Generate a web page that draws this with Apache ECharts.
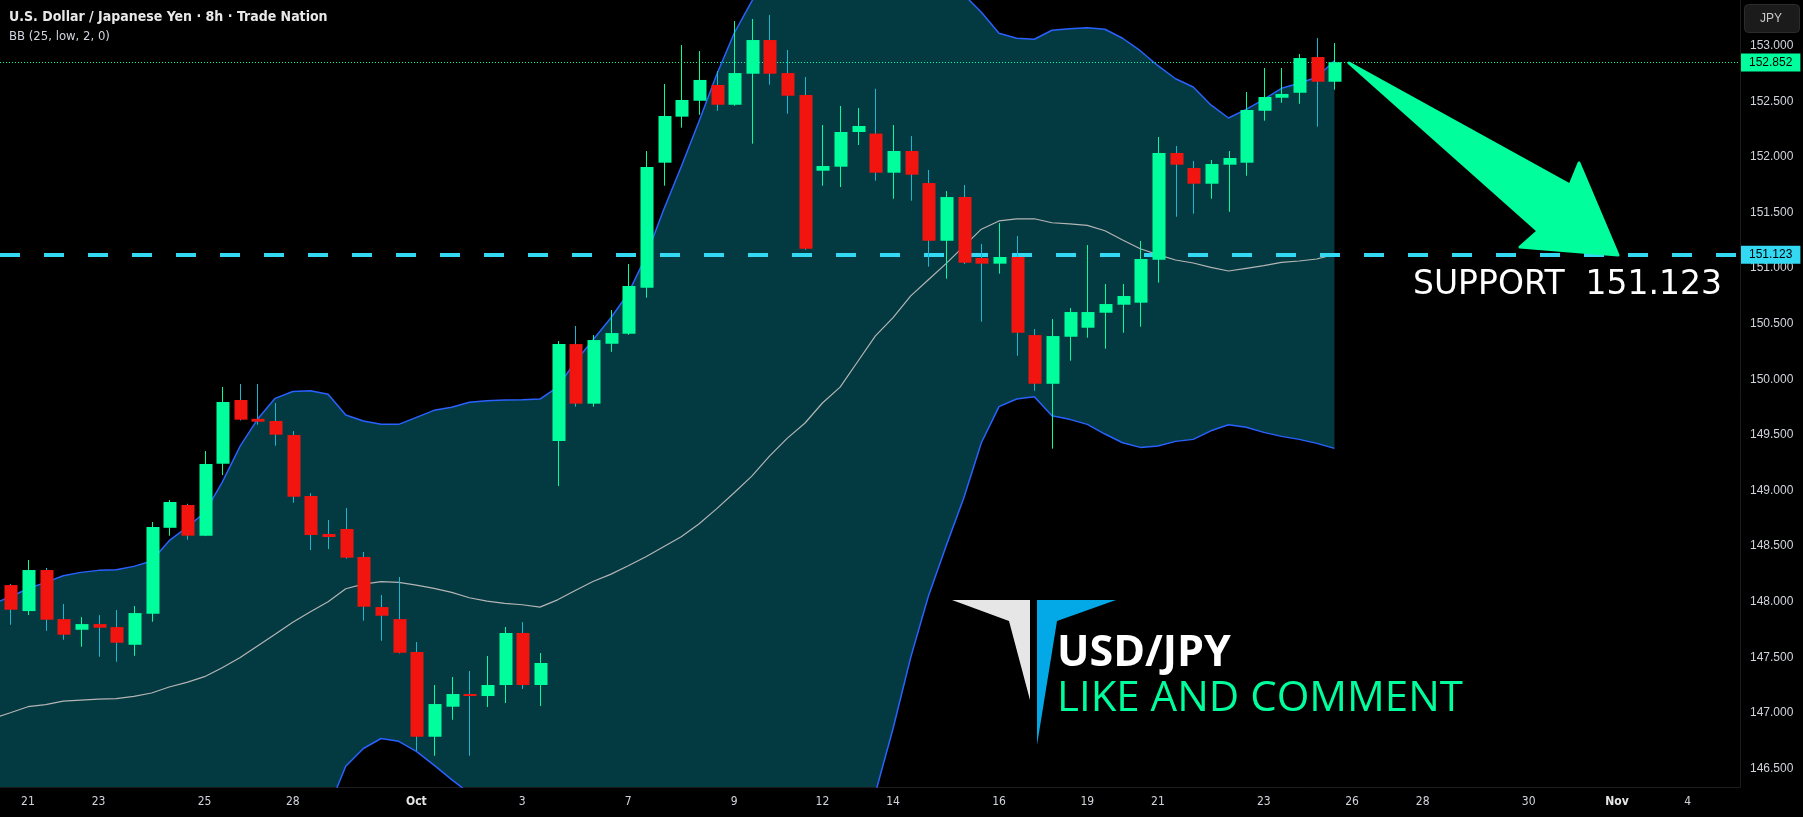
<!DOCTYPE html>
<html>
<head>
<meta charset="utf-8">
<script src="https://cdn.jsdelivr.net/npm/echarts@6/dist/echarts.min.js"></script>
<style>
html,body{margin:0;padding:0;background:#000;}
#chart{width:1803px;height:817px;}
</style>
</head>
<body>
<div id="chart"></div>
<script>
// ---------- data (8h candles, index 0 = first visible candle) ----------
const opens = [148.150,147.916,148.285,147.844,147.748,147.799,147.772,147.613,147.892,148.665,
  148.870,148.594,149.241,149.814,149.645,149.625,149.499,148.951,148.609,148.654,
  148.402,147.952,147.844,147.548,146.786,147.056,147.170,147.152,147.251,147.719,
  147.251,149.445,150.317,149.781,150.320,150.410,150.824,151.948,152.362,152.505,
  152.647,152.469,152.748,153.051,152.754,152.557,151.876,151.912,152.224,152.210,
  151.858,152.053,151.765,151.246,151.639,151.091,151.040,151.100,150.398,149.960,
  150.383,150.464,150.599,150.671,150.689,151.076,152.035,151.900,151.759,151.930,
  151.948,152.415,152.532,152.577,152.898,152.676];
const closes = [147.928,148.285,147.838,147.703,147.799,147.766,147.631,147.898,148.672,148.897,
  148.594,149.238,149.796,149.637,149.619,149.502,148.944,148.600,148.582,148.396,
  147.955,147.874,147.541,146.786,147.080,147.170,147.152,147.251,147.719,147.251,
  147.449,150.317,149.781,150.353,150.416,150.839,151.909,152.368,152.512,152.692,
  152.469,152.754,153.051,152.748,152.550,151.174,151.918,152.224,152.278,151.858,
  152.053,151.840,151.246,151.639,151.049,151.040,151.100,150.419,149.960,150.389,
  150.605,150.605,150.677,150.749,151.082,152.035,151.930,151.759,151.936,151.990,
  152.422,152.539,152.566,152.889,152.676,152.852];
const lows = [147.793,147.880,147.739,147.658,147.595,147.505,147.460,147.514,147.820,148.594,
  148.558,148.590,149.139,149.630,149.592,149.403,148.890,148.465,148.474,148.387,
  147.829,147.649,147.535,146.660,146.615,146.939,146.615,147.053,147.089,147.215,
  147.062,149.040,149.754,149.754,150.248,150.400,150.734,151.741,152.263,152.379,
  152.415,152.460,152.119,152.649,152.388,151.165,151.741,151.729,152.107,151.786,
  151.624,151.606,151.013,150.905,151.037,150.518,150.950,150.212,149.897,149.376,
  150.167,150.374,150.275,150.419,150.473,150.869,151.462,151.489,151.624,151.507,
  151.831,152.326,152.487,152.478,152.272,152.604];
const highs = [148.159,148.375,148.303,147.979,147.862,147.880,147.925,147.961,148.717,148.915,
  148.881,149.355,149.931,149.958,149.958,149.787,149.535,148.977,148.735,148.843,
  148.447,148.060,148.222,147.638,147.251,147.323,147.377,147.512,147.773,147.817,
  147.539,150.344,150.480,150.398,150.623,151.037,152.053,152.656,153.006,152.952,
  152.772,153.222,153.240,153.276,152.961,152.719,152.287,152.458,152.440,152.613,
  152.287,152.187,151.882,151.693,151.747,151.217,151.406,151.289,150.452,150.542,
  150.641,151.208,150.857,150.857,151.244,152.179,152.098,151.963,151.972,152.053,
  152.584,152.799,152.799,152.925,153.069,153.024];

// Bollinger Bands (25, low, 2).
// The band arrays start one candle earlier (index -1, just off the left edge).
const bandStart = -1;
const bbUpper = [147.980,148.045,148.117,148.174,148.234,148.264,148.282,148.288,148.318,148.366,148.549,
  148.669,148.800,149.074,149.394,149.640,149.829,149.890,149.897,149.865,149.679,
  149.625,149.595,149.595,149.658,149.721,149.748,149.793,149.808,149.814,149.817,
  149.823,149.930,150.158,150.353,150.549,150.773,151.103,151.522,151.912,152.317,
  152.737,153.112,153.400,153.700,153.950,154.150,154.300,154.400,154.500,154.500,
  154.250,154.000,153.750,153.580,153.460,153.300,153.112,153.067,153.058,153.139,
  153.153,153.162,153.148,153.067,152.955,152.820,152.703,152.629,152.467,152.350,
  152.428,152.518,152.617,152.662,152.716,152.865];
const bbBasis = [146.950,147.002,147.056,147.074,147.107,147.116,147.125,147.128,147.149,147.179,147.233,
  147.275,147.326,147.407,147.496,147.602,147.707,147.816,147.910,148.000,148.117,
  148.159,148.180,148.174,148.150,148.120,148.084,148.036,148.006,147.986,147.973,
  147.952,148.017,148.101,148.182,148.246,148.323,148.405,148.495,148.585,148.699,
  148.835,148.980,149.130,149.310,149.469,149.605,149.787,149.930,150.160,150.390,
  150.555,150.750,150.895,151.040,151.195,151.350,151.424,151.442,151.444,151.408,
  151.397,151.385,151.336,151.253,151.174,151.121,151.073,151.046,151.007,150.974,
  150.998,151.022,151.052,151.064,151.082,151.124];
const bbLower = [145.920,145.959,145.995,145.974,145.980,145.968,145.968,145.968,145.980,145.992,145.917,
  145.881,145.852,145.740,145.598,145.564,145.585,145.742,145.923,146.135,146.520,
  146.680,146.770,146.745,146.655,146.530,146.400,146.279,146.204,146.158,146.129,
  146.081,146.104,146.044,146.011,145.943,145.873,145.707,145.468,145.258,145.081,
  144.933,144.848,144.860,144.920,144.990,145.060,145.270,145.460,145.820,146.280,
  146.860,147.500,148.050,148.500,148.930,149.430,149.754,149.823,149.844,149.673,
  149.640,149.595,149.508,149.430,149.388,149.401,149.442,149.460,149.537,149.592,
  149.569,149.523,149.487,149.460,149.424,149.379];

const xLabelIdx  = [1,5,11,16,23,29,35,41,46,50,56,61,65,71,76,80,86,91,95];
const xLabelText = ['21','23','25','28','Oct','3','7','9','12','14','16','19','21','23','26','28','30','Nov','4'];
const yTicks = [146.5,147,147.5,148,148.5,149,149.5,150,150.5,151,151.5,152,152.5,153];

const supportLevel = 151.123;
const lastPrice = 152.852;

// ---------- styling ----------
const GREEN = '#00ff9c';
const RED = '#f2140f';
const WICK_DOWN = '#1cb6d0';
const CYAN = '#33d8f2';
const BAND_FILL = '#033a41';
const BAND_LINE = '#2962ff';
const BASIS_LINE = '#b4b4b4';

const chart = echarts.init(document.getElementById('chart'), null, {renderer:'canvas'});

const candleData = opens.map((o, i) => [i, o, closes[i], lows[i], highs[i]]);
const labelMap = {};
xLabelIdx.forEach((k, j) => { labelMap[k] = xLabelText[j]; });
const bandPts = arr => arr.map((v, j) => [j + bandStart, v]);

function clipGroup(params, children) {
  const cs = params.coordSys;
  return {type:'group', children, clipPath:{type:'rect', shape:{x:cs.x, y:cs.y, width:cs.width, height:cs.height}}};
}

const option = {
  backgroundColor: '#000000',
  animation: false,
  grid: {left: 0, right: 63, top: 0, bottom: 30, containLabel: false},
  xAxis: {
    type: 'value', min: -0.583, max: 97.97,
    splitLine: {show: false},
    axisTick: {show: false},
    axisLine: {show: true, onZero: false, lineStyle: {color: '#1c1c1c', width: 1}},
    axisLabel: {
      customValues: xLabelIdx,
      margin: 9,
      color: '#d1d4dc',
      fontSize: 12,
      fontFamily: "'Liberation Sans Narrow','DejaVu Sans Condensed','Liberation Sans',sans-serif",
      formatter: v => {
        const t = labelMap[Math.round(v)] || '';
        return (t === 'Oct' || t === 'Nov') ? '{b|' + t + '}' : t;
      },
      rich: {b: {fontWeight: 'bold', fontSize: 12, color: '#e6e6e6',
        fontFamily: "'Liberation Sans Narrow','DejaVu Sans Condensed','Liberation Sans',sans-serif"}}
    }
  },
  yAxis: {
    type: 'value', position: 'right', min: 146.334, max: 153.411,
    splitLine: {show: false},
    axisTick: {show: false},
    axisLine: {show: true, onZero: false, lineStyle: {color: '#1c1c1c', width: 1}},
    axisLabel: {
      customValues: yTicks,
      margin: 10,
      color: '#d1d4dc',
      fontSize: 12,
      fontFamily: "'Liberation Sans',Arial,sans-serif",
      formatter: v => v.toFixed(3)
    }
  },
  series: [
    {
      name: 'bbFill', type: 'custom', z: 1, silent: true,
      data: [[0, bbUpper[1]]],
      encode: {x: 0, y: 1},
      renderItem: (params, api) => {
        const pts = [];
        for (let j = 0; j < bbUpper.length; j++) pts.push(api.coord([j + bandStart, bbUpper[j]]));
        for (let j = bbLower.length - 1; j >= 0; j--) pts.push(api.coord([j + bandStart, bbLower[j]]));
        return clipGroup(params, [{type:'polygon', shape:{points: pts}, style:{fill: BAND_FILL}}]);
      }
    },
    {
      name: 'upper', type: 'line', z: 2, silent: true, symbol: 'none',
      data: bandPts(bbUpper),
      lineStyle: {color: BAND_LINE, width: 1.5}
    },
    {
      name: 'lower', type: 'line', z: 2, silent: true, symbol: 'none',
      data: bandPts(bbLower),
      lineStyle: {color: BAND_LINE, width: 1.5}
    },
    {
      name: 'basis', type: 'line', z: 2, silent: true, symbol: 'none',
      data: bandPts(bbBasis),
      lineStyle: {color: BASIS_LINE, width: 1.2}
    },
    {
      name: 'levels', type: 'line', z: 3, silent: true, symbol: 'none',
      data: [],
      markLine: {
        silent: true, symbol: ['none', 'none'], animation: false,
        data: [
          {yAxis: supportLevel,
            lineStyle: {color: CYAN, width: 4, type: [20, 24]},
            label: {show: true, position: 'end', distance: 1, formatter: supportLevel.toFixed(3),
              backgroundColor: CYAN, color: '#000', fontSize: 12, padding: [3, 8, 3, 8],
              fontFamily: "'Liberation Sans',Arial,sans-serif"}},
          {yAxis: lastPrice,
            lineStyle: {color: GREEN, width: 1, type: [1, 2]},
            label: {show: true, position: 'end', distance: 1, formatter: lastPrice.toFixed(3),
              backgroundColor: GREEN, color: '#000', fontSize: 12, padding: [3, 8, 3, 8],
              fontFamily: "'Liberation Sans',Arial,sans-serif"}}
        ]
      }
    },
    {
      name: 'USDJPY', type: 'custom', z: 5, silent: true,
      data: candleData,
      encode: {x: 0, y: [1, 2, 3, 4]},
      renderItem: (params, api) => {
        const i = api.value(0), o = api.value(1), c = api.value(2), l = api.value(3), h = api.value(4);
        const pO = api.coord([i, o]), pC = api.coord([i, c]);
        const pL = api.coord([i, l]), pH = api.coord([i, h]);
        const w = Math.round(api.size([1, 0])[0] * 0.74);
        const up = c >= o;
        const xc = Math.round(pO[0]);
        const top = Math.min(pO[1], pC[1]);
        const hgt = Math.max(Math.abs(pO[1] - pC[1]), 2);
        return clipGroup(params, [
          {type: 'line', shape: {x1: xc + 0.5, y1: pH[1], x2: xc + 0.5, y2: pL[1]},
            style: {stroke: up ? GREEN : WICK_DOWN, lineWidth: 1}},
          {type: 'rect', shape: {x: xc - Math.floor(w / 2) + 0.5, y: top, width: w, height: hgt},
            style: {fill: up ? GREEN : RED}}
        ]);
      }
    }
  ],
  graphic: [
    {type: 'text', left: 9, top: 10, z: 20, silent: true,
      style: {text: 'U.S. Dollar / Japanese Yen · 8h · Trade Nation', fill: '#e8e8e8',
        font: "bold 14px 'Liberation Sans Narrow','DejaVu Sans Condensed','Liberation Sans',sans-serif"}},
    {type: 'text', left: 9, top: 30, z: 20, silent: true,
      style: {text: 'BB (25, low, 2, 0)', fill: '#d1d4dc',
        font: "13px 'Liberation Sans Narrow','DejaVu Sans Condensed','Liberation Sans',sans-serif"}},
    {type: 'rect', z: 20, silent: true, shape: {x: 1744.5, y: 4.5, width: 55, height: 28, r: 4},
      style: {fill: '#1b1b1b', stroke: '#2c2c2c', lineWidth: 1}},
    {type: 'text', z: 21, silent: true, x: 1771, y: 18.5,
      style: {text: 'JPY', fill: '#c8c8c8', align: 'center', verticalAlign: 'middle',
        font: "12px 'Liberation Sans',Arial,sans-serif"}},
    // arrow
    {type: 'polygon', z: 20, silent: true,
      shape: {points: [[1349, 63], [1570, 185], [1579, 163], [1618, 255], [1520, 247], [1538, 231]]},
      style: {fill: GREEN, stroke: GREEN, lineWidth: 3, lineJoin: 'round'}},
    {type: 'text', z: 20, silent: true, x: 1413, y: 285,
      style: {text: 'SUPPORT  151.123', fill: '#ffffff', verticalAlign: 'middle',
        font: "33px 'DejaVu Sans',sans-serif"}},
    // logo
    {type: 'polygon', z: 20, silent: true,
      shape: {points: [[952, 600], [1030, 600], [1030, 700], [1009, 621]]},
      style: {fill: '#e6e6e6'}},
    {type: 'polygon', z: 20, silent: true,
      shape: {points: [[1037, 600], [1116, 600], [1057, 621], [1037, 745]]},
      style: {fill: '#03a9e6'}},
    {type: 'text', z: 20, silent: true, x: 1057, y: 654,
      style: {text: 'USD/JPY', fill: '#ffffff', verticalAlign: 'middle',
        font: "bold 43px 'Open Sans',sans-serif"}},
    {type: 'text', z: 20, silent: true, x: 1057, y: 699,
      style: {text: 'LIKE AND COMMENT', fill: GREEN, verticalAlign: 'middle',
        font: "42px 'Open Sans',sans-serif"}}
  ]
};

chart.setOption(option);
</script>
</body>
</html>
